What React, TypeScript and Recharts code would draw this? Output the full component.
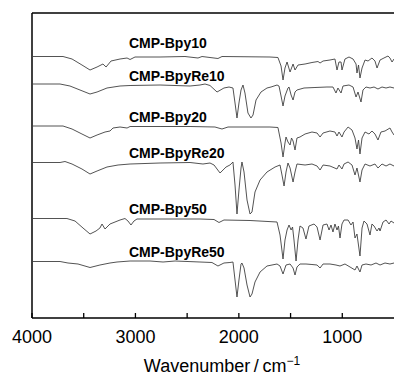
import React from 'react';
import { LineChart, Line, XAxis, YAxis, ReferenceLine, ReferenceDot, Label } from 'recharts';

// IR spectra, wavenumber (cm-1) vs. offset transmittance (arbitrary units)
const bpy10: [number, number][] = [
  [4000, 261.5], [3700, 261.5], [3613, 259], [3517, 253], [3439, 248], [3371, 251], [3314, 254], [3284, 251],
  [3236, 257], [3149, 259], [3081, 260], [3052, 258.5], [3004, 261], [2762, 261], [2521, 261.5], [2395, 260],
  [2356, 261.5], [2202, 259.5], [2163, 261.5], [1699, 261], [1622, 260.5], [1592, 252], [1573, 238], [1554, 250],
  [1534, 256], [1505, 246], [1476, 254], [1457, 248], [1428, 253], [1360, 254], [1293, 255.5], [1235, 256.5],
  [1215, 255], [1186, 257], [1119, 258], [1071, 259], [1051, 248], [1032, 256], [1012, 256], [1003, 248],
  [974, 259], [935, 261], [896, 259], [867, 254], [858, 245], [843, 253], [829, 240], [809, 250], [780, 258],
  [751, 257], [713, 260], [684, 257], [664, 250], [635, 258], [597, 260], [558, 262], [539, 260], [519, 256], [500, 259],
];

const bpyRe10: [number, number][] = [
  [4000, 234], [3729, 234], [3633, 232], [3536, 228], [3439, 224], [3371, 226], [3275, 230], [3149, 232],
  [3052, 232.5], [2762, 233], [2472, 232], [2376, 233], [2327, 234], [2279, 232.5], [2211, 226], [2144, 230],
  [2095, 231], [2057, 230], [2037, 215], [2018, 200], [1999, 215], [1979, 228], [1960, 233], [1941, 225],
  [1912, 205], [1883, 200], [1863, 203], [1834, 218], [1786, 226], [1728, 230], [1689, 231], [1631, 233],
  [1612, 232], [1592, 222], [1573, 212], [1554, 222], [1525, 230], [1515, 231], [1495, 223], [1476, 218],
  [1457, 226], [1438, 228], [1370, 230], [1264, 230.5], [1148, 231], [1090, 231], [1061, 225], [1042, 230],
  [1012, 225], [993, 232], [935, 233], [896, 231], [867, 221], [848, 226], [819, 216], [800, 228], [771, 231],
  [732, 230], [693, 231], [655, 229], [616, 231], [577, 230], [539, 231], [500, 230],
];

const bpy20: [number, number][] = [
  [4000, 192], [3700, 192], [3613, 189], [3517, 184], [3439, 180], [3371, 183], [3294, 186], [3246, 187],
  [3217, 190], [3149, 191], [3081, 190], [3052, 191.5], [2762, 191.5], [2472, 191.5], [2231, 191], [2163, 189],
  [2105, 191], [1699, 191], [1622, 190.5], [1592, 175], [1573, 161], [1554, 175], [1544, 181], [1525, 176],
  [1505, 173], [1491, 180], [1476, 177], [1457, 168], [1438, 180], [1409, 181], [1360, 184], [1293, 186],
  [1244, 185], [1215, 181], [1186, 185], [1119, 187], [1071, 186], [1051, 182], [1032, 186], [1003, 181],
  [983, 186], [944, 191], [906, 188], [877, 180], [858, 169], [843, 178], [829, 164], [809, 180], [780, 186],
  [742, 184], [713, 187], [684, 184], [655, 178], [626, 186], [587, 187], [539, 190], [519, 186], [500, 183],
];

const bpyRe20: [number, number][] = [
  [4000, 155.5], [3729, 155.5], [3681, 156.5], [3613, 154], [3517, 149], [3439, 144], [3371, 147], [3275, 151],
  [3168, 153], [3052, 154], [2762, 155], [2472, 155.5], [2347, 154], [2279, 155], [2240, 153], [2182, 145],
  [2124, 151], [2086, 153], [2057, 156], [2037, 133], [2018, 104], [1999, 128], [1979, 150], [1970, 156],
  [1950, 146], [1921, 118], [1892, 104], [1873, 106], [1844, 126], [1795, 138], [1728, 146], [1650, 151],
  [1602, 153], [1583, 143], [1563, 132], [1544, 146], [1525, 155], [1505, 150], [1476, 136], [1457, 146],
  [1438, 154], [1360, 153], [1293, 154], [1244, 152], [1215, 148], [1186, 153], [1119, 152], [1051, 149],
  [1032, 153], [1003, 149], [983, 154], [944, 156], [906, 153], [877, 143], [858, 150], [829, 136], [809, 148],
  [780, 154], [732, 152], [684, 154], [655, 150], [616, 154], [577, 152], [539, 154], [500, 152],
];

const bpy50: [number, number][] = [
  [4000, 99.5], [3662, 99.5], [3584, 97], [3507, 90], [3439, 84], [3381, 87], [3343, 90], [3323, 94],
  [3294, 89], [3246, 94], [3149, 98], [3101, 99.5], [3072, 97], [3043, 93], [3014, 97], [2985, 99],
  [2666, 99], [2376, 99], [2240, 98.5], [2192, 95.5], [2144, 98], [1892, 97.5], [1631, 96], [1602, 83],
  [1573, 59], [1554, 78], [1534, 88], [1515, 93], [1495, 88], [1481, 91], [1467, 78], [1447, 57], [1428, 78],
  [1409, 92], [1380, 90], [1351, 79], [1322, 92], [1273, 94], [1244, 91], [1215, 78], [1186, 93], [1148, 94],
  [1128, 88], [1109, 93], [1090, 86], [1071, 94], [1051, 88], [1037, 92], [1022, 80], [1003, 94], [983, 98],
  [944, 98], [916, 93], [896, 96], [877, 80], [858, 84], [829, 62], [809, 90], [790, 97], [761, 94], [732, 83],
  [713, 94], [693, 92], [664, 87], [645, 90], [635, 87], [606, 96], [577, 98], [548, 94], [529, 97], [500, 95],
];

const bpyRe50: [number, number][] = [
  [4000, 56.5], [3729, 56.5], [3652, 55], [3555, 54], [3439, 50.5], [3343, 53], [3246, 55], [3178, 56],
  [3052, 57], [2859, 57], [2733, 56], [2617, 57], [2376, 56], [2260, 55.5], [2202, 52], [2144, 55],
  [2086, 55.5], [2057, 56], [2037, 38], [2018, 21], [1999, 38], [1979, 54], [1970, 55], [1950, 50],
  [1921, 33], [1892, 21], [1873, 24], [1844, 36], [1795, 46], [1728, 52], [1631, 54], [1602, 52], [1573, 44],
  [1544, 53], [1505, 54], [1476, 50], [1457, 43], [1438, 51], [1409, 54], [1351, 54], [1293, 53.5], [1244, 53],
  [1215, 50], [1186, 54], [1119, 54], [1061, 53], [1022, 52], [974, 54], [925, 51], [877, 48], [858, 52],
  [829, 46], [809, 53], [771, 54], [722, 53], [674, 55], [635, 53], [587, 55], [539, 54], [500, 55],
];

const series = [
  { name: 'CMP-Bpy10', data: bpy10, label: 275 },
  { name: 'CMP-BpyRe10', data: bpyRe10, label: 242 },
  { name: 'CMP-Bpy20', data: bpy20, label: 201 },
  { name: 'CMP-BpyRe20', data: bpyRe20, label: 165 },
  { name: 'CMP-Bpy50', data: bpy50, label: 109 },
  { name: 'CMP-BpyRe50', data: bpyRe50, label: 66 },
];

const wnTicks = [4000, 3500, 3000, 2500, 2000, 1500, 1000];
const labelWn = 3072;

const FONT = "Arial, 'Liberation Sans', Helvetica, sans-serif";

const toPoints = (arr: [number, number][]) => arr.map(([wn, t]) => ({ wn, t }));

const WnTick = (props: any) => {
  const { x, y, payload } = props;
  const major = payload.value % 1000 === 0;
  return (
    <g>
      <line x1={x} x2={x} y1={y} y2={y - 5} stroke="#000" strokeWidth={1.3} />
      {major && (
        <text x={x} y={y + 25} textAnchor="middle" fontSize={18} fontFamily={FONT} fill="#000">
          {payload.value}
        </text>
      )}
    </g>
  );
};

const AxisTitle = (props: any) => {
  const { viewBox } = props;
  const x = viewBox.x + viewBox.width / 2 + 9;
  return (
    <text x={x} y={372} textAnchor="middle" fontSize={18} fontFamily={FONT} fill="#000">
      <tspan>Wavenumber{'\u2009'}/{'\u2009'}cm</tspan>
      <tspan dy={-7} fontSize={12}>−1</tspan>
    </text>
  );
};

export default function App() {
  return (
    <div style={{ position: 'absolute', left: 0, top: 0, width: 394, height: 379, background: '#fff' }}>
      <LineChart width={394} height={379} margin={{ top: 13, right: 0, left: 32, bottom: 11 }}>
        <XAxis
          type="number"
          dataKey="wn"
          domain={[500, 4000]}
          reversed
          allowDataOverflow
          ticks={wnTicks}
          interval={0}
          tickSize={0}
          tickMargin={0}
          tickLine={false}
          tick={WnTick}
          height={50}
          axisLine={{ stroke: '#000', strokeWidth: 1.5 }}
        >
          <Label content={AxisTitle} />
        </XAxis>
        <YAxis type="number" domain={[0, 305]} hide allowDataOverflow />
        <ReferenceLine x={4000} stroke="#000" strokeWidth={1.5} />
        <ReferenceLine y={305} stroke="#000" strokeWidth={1.5} />
        {series.map((s) => (
          <Line
            key={s.name}
            name={s.name}
            data={toPoints(s.data)}
            dataKey="t"
            type="linear"
            dot={false}
            stroke="#404040"
            strokeWidth={0.9}
            isAnimationActive={false}
          />
        ))}
        {series.map((s) => (
          <ReferenceDot key={s.name + '-lbl'} x={labelWn} y={s.label} r={1} fill="none" stroke="none">
            <Label
              value={s.name}
              position="right"
              offset={0}
              fontSize={14}
              fontWeight="bold"
              fontFamily={FONT}
              fill="#000"
            />
          </ReferenceDot>
        ))}
      </LineChart>
    </div>
  );
}
